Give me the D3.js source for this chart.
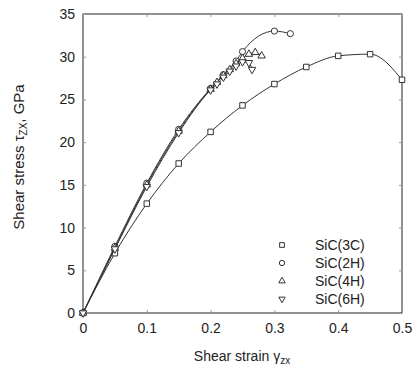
<!DOCTYPE html>
<html>
<head>
    <meta charset="utf-8" />
    <title>Shear stress vs strain</title>
    <style>
        body { margin: 0; background: #fff; }
        text { font-family: "Liberation Sans", Arial, sans-serif; fill: #222; }
    </style>
    <script src="https://cdn.jsdelivr.net/npm/d3@7/dist/d3.min.js"></script>
</head>
<body>
    <div id="svg"></div>
    <script>
        var width = 415,
            height = 370,
            margin = {left: 83, right: 13, top: 14, bottom: 57};

        // data
        var strain3C = [0, 0.05, 0.1, 0.15, 0.2, 0.25, 0.3, 0.35, 0.4, 0.45, 0.5];
        var stress3C = [0, 7.0, 12.8, 17.5, 21.2, 24.3, 26.8, 28.8, 30.1, 30.3, 27.3];
        var strain2H = [0, 0.05, 0.1, 0.15, 0.2, 0.22, 0.24, 0.25, 0.3, 0.325];
        var stress2H = [0, 7.8, 15.2, 21.5, 26.3, 27.9, 29.5, 30.6, 33.0, 32.7];
        var strain4H = [0, 0.05, 0.1, 0.15, 0.2, 0.21, 0.22, 0.23, 0.24, 0.25, 0.26, 0.27, 0.28];
        var stress4H = [0, 7.6, 15.0, 21.3, 26.2, 27.0, 27.8, 28.5, 29.2, 29.8, 30.3, 30.5, 30.1];
        var strain6H = [0, 0.05, 0.1, 0.15, 0.2, 0.21, 0.22, 0.23, 0.24, 0.25, 0.26, 0.265];
        var stress6H = [0, 7.5, 14.8, 21.1, 26.1, 26.8, 27.6, 28.3, 28.9, 29.4, 29.3, 28.5];
        var seriesNames = ['SiC(3C)', 'SiC(2H)', 'SiC(4H)', 'SiC(6H)'];
        var xTicks = [0, 0.1, 0.2, 0.3, 0.4, 0.5];
        var yTicks = [0, 5, 10, 15, 20, 25, 30, 35];

        var series = [
            {name: seriesNames[0], xs: strain3C, ys: stress3C, sym: d3.symbolSquare, rot: 0},
            {name: seriesNames[1], xs: strain2H, ys: stress2H, sym: d3.symbolCircle, rot: 0},
            {name: seriesNames[2], xs: strain4H, ys: stress4H, sym: d3.symbolTriangle, rot: 0},
            {name: seriesNames[3], xs: strain6H, ys: stress6H, sym: d3.symbolTriangle, rot: 180}
        ];

        var svg = d3.select('#svg')
            .append('svg')
            .attr('width', width)
            .attr('height', height);

        var xScale = d3.scaleLinear()
            .domain([0, 0.5])
            .range([margin.left, width - margin.right]);

        var yScale = d3.scaleLinear()
            .domain([0, 35])
            .range([height - margin.bottom, margin.top]);

        // frame
        svg.append('rect')
            .attr('x', margin.left)
            .attr('y', margin.top)
            .attr('width', width - margin.left - margin.right)
            .attr('height', height - margin.top - margin.bottom)
            .attr('fill', 'none')
            .attr('stroke', '#222')
            .attr('stroke-width', 1);

        function styleAxis(g) {
            g.select('.domain').remove();
            g.selectAll('line').attr('stroke', '#999');
            g.selectAll('text').attr('font-size', 14).style('fill', '#222');
        }

        var fmt = d => d === 0 ? '0' : d3.format('')(d);

        svg.append('g')
            .attr('transform', 'translate(0,' + (height - margin.bottom) + ')')
            .call(d3.axisBottom(xScale).tickValues(xTicks).tickFormat(fmt).tickSizeInner(-3).tickPadding(10))
            .call(styleAxis);

        svg.append('g')
            .attr('transform', 'translate(0,' + margin.top + ')')
            .call(d3.axisTop(xScale).tickValues(xTicks).tickFormat('').tickSizeInner(-3))
            .call(styleAxis);

        svg.append('g')
            .attr('transform', 'translate(' + margin.left + ',0)')
            .call(d3.axisLeft(yScale).tickValues(yTicks).tickSizeInner(-3).tickPadding(8))
            .call(styleAxis);

        svg.append('g')
            .attr('transform', 'translate(' + (width - margin.right) + ',0)')
            .call(d3.axisRight(yScale).tickValues(yTicks).tickFormat('').tickSizeInner(-3))
            .call(styleAxis);

        var line = d3.line()
            .curve(d3.curveMonotoneX)
            .x(d => xScale(d[0]))
            .y(d => yScale(d[1]));

        series.forEach(function(s) {
            var pts = s.xs.map((x, i) => [x, s.ys[i]]);
            svg.append('path')
                .datum(pts)
                .attr('d', line)
                .attr('fill', 'none')
                .attr('stroke', '#333')
                .attr('stroke-width', 1);
            svg.selectAll(null)
                .data(pts)
                .enter()
                .append('path')
                .attr('d', d3.symbol().type(s.sym).size(s.sym === d3.symbolTriangle ? 24 : 30))
                .attr('transform', d => 'translate(' + xScale(d[0]) + ',' + yScale(d[1]) + ') rotate(' + s.rot + ')')
                .attr('fill', '#fff')
                .attr('stroke', '#333')
                .attr('stroke-width', 1);
        });

        // legend
        var legend = svg.append('g').attr('transform', 'translate(282,245)');
        series.forEach(function(s, i) {
            legend.append('path')
                .attr('d', d3.symbol().type(s.sym).size(s.sym === d3.symbolTriangle ? 18 : 22))
                .attr('transform', 'translate(0,' + (i * 18) + ') rotate(' + s.rot + ')')
                .attr('fill', '#fff')
                .attr('stroke', '#333');
            legend.append('text')
                .attr('x', 33)
                .attr('y', i * 18)
                .attr('dy', '0.35em')
                .attr('font-size', 14)
                .text(s.name);
        });

        // axis titles
        var xt = svg.append('text')
            .attr('x', 242)
            .attr('y', 361)
            .attr('text-anchor', 'middle')
            .attr('font-size', 14);
        xt.append('tspan').text('Shear strain \u03b3');
        xt.append('tspan').attr('font-size', 10).attr('dy', 3).text('zx');

        var yt = svg.append('text')
            .attr('transform', 'translate(24,157) rotate(-90)')
            .attr('text-anchor', 'middle')
            .attr('font-size', 15);
        yt.append('tspan').text('Shear stress \u03c4');
        yt.append('tspan').attr('font-size', 10).attr('dy', 3).text('ZX');
        yt.append('tspan').attr('dy', -3).text(', GPa');
    </script>
</body>
</html>
